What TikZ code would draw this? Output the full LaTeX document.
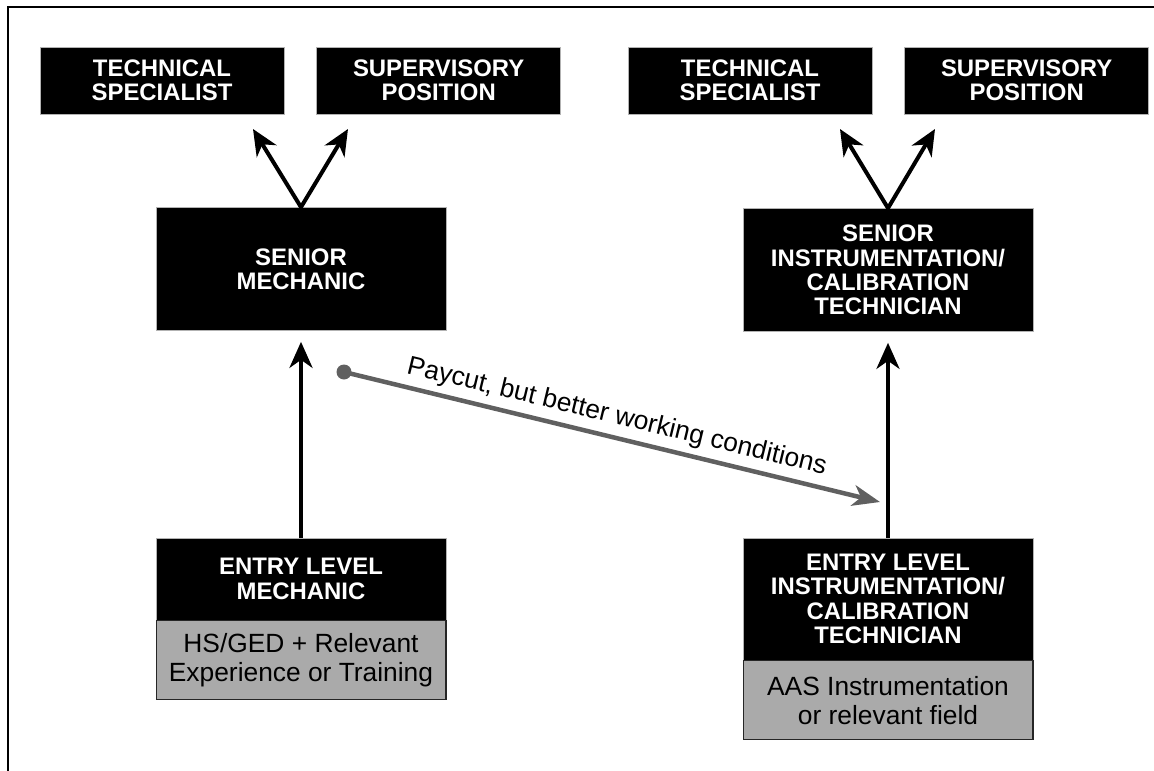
\documentclass[tikz,border=0pt]{standalone}
\usepackage{fontspec}
\setmainfont{Liberation Sans}
\usetikzlibrary{shapes,arrows.meta,positioning,calc}

\definecolor{reqgray}{RGB}{170,170,170}
\definecolor{paygray}{RGB}{96,96,96}

\begin{document}
\begin{tikzpicture}[x=0.02cm, y=-0.02cm, node distance=0.64cm,
        role/.style={rectangle, draw=gray!60, fill=black, text=white, inner sep=0pt, align=center, font=\fontsize{13.6}{13.8}\selectfont\bfseries, minimum width=4.88cm, minimum height=1.34cm},
        senior/.style={role, minimum width=5.8cm, minimum height=2.46cm},
        req/.style={rectangle, draw=black!85, line width=0.6pt, fill=reqgray, inner sep=0pt, align=center, font=\fontsize{15}{16.5}\selectfont, minimum width=5.8cm, minimum height=1.58cm},
        up/.style={-{Stealth[length=0.52cm, width=0.46cm, inset=0.16cm]}, line width=0.08cm},
        vee/.style={{Stealth[length=0.52cm, width=0.46cm, inset=0.16cm]}-{Stealth[length=0.52cm, width=0.46cm, inset=0.16cm]}, line width=0.08cm, miter limit=10},
        paydot/.style={circle, fill=paygray, inner sep=0pt, minimum size=0.3cm},
        pay/.style={-{Stealth[length=0.55cm, width=0.42cm, inset=0.16cm]}, draw=paygray, fill=paygray, line width=0.09cm}]

    \useasboundingbox (0,0) rectangle (1154,771);
    \draw[line width=0.045cm] (8,771) -- (8,7) -- (1154,7);

    % mechanic track
    \node[role] (tsl) at (162,80.5) {TECHNICAL\\SPECIALIST};
    \node[role, right=of tsl] (spl) {SUPERVISORY\\POSITION};
    \node[senior] (senmech) at (301,269) {SENIOR\\MECHANIC};
    \node[senior, minimum height=1.64cm] (entmech) at (301,579) {ENTRY LEVEL\\MECHANIC};
    \node[req, below=0pt of entmech] (reqmech) {HS/GED + Relevant\\Experience or Training};

    % instrumentation track
    \node[role] (tsr) at (750,80.5) {TECHNICAL\\SPECIALIST};
    \node[role, right=of tsr] (spr) {SUPERVISORY\\POSITION};
    \node[senior] (seninst) at (888,270) {SENIOR\\INSTRUMENTATION/\\CALIBRATION\\TECHNICIAN};
    \node[senior, minimum height=2.44cm] (entinst) at (888,599) {ENTRY LEVEL\\INSTRUMENTATION/\\CALIBRATION\\TECHNICIAN};
    \node[req, below=0pt of entinst] (reqinst) {AAS Instrumentation\\or relevant field};

    % promotions
    \coordinate (tsltip) at (253,129);
    \coordinate (spltip) at (348,129);
    \coordinate (tsrtip) at (840,129);
    \coordinate (sprtip) at (935,129);
    \draw[vee] (tsltip) -- (senmech.north) -- (spltip);
    \draw[vee] (tsrtip) -- (seninst.north) -- (sprtip);
    \draw[up, shorten >=0.22cm] (entmech) -- (senmech);
    \draw[up, shorten >=0.22cm] (entinst) -- (seninst);

    % switch
    \node[paydot] (paystart) at (344,372) {};
    \coordinate (payend) at (880,502);
    \draw[pay] (paystart.center) -- node[sloped, above, text=black, font=\fontsize{15}{16.5}\selectfont] (paylabel) {Paycut, but better working conditions} (payend);
\end{tikzpicture}
\end{document}
